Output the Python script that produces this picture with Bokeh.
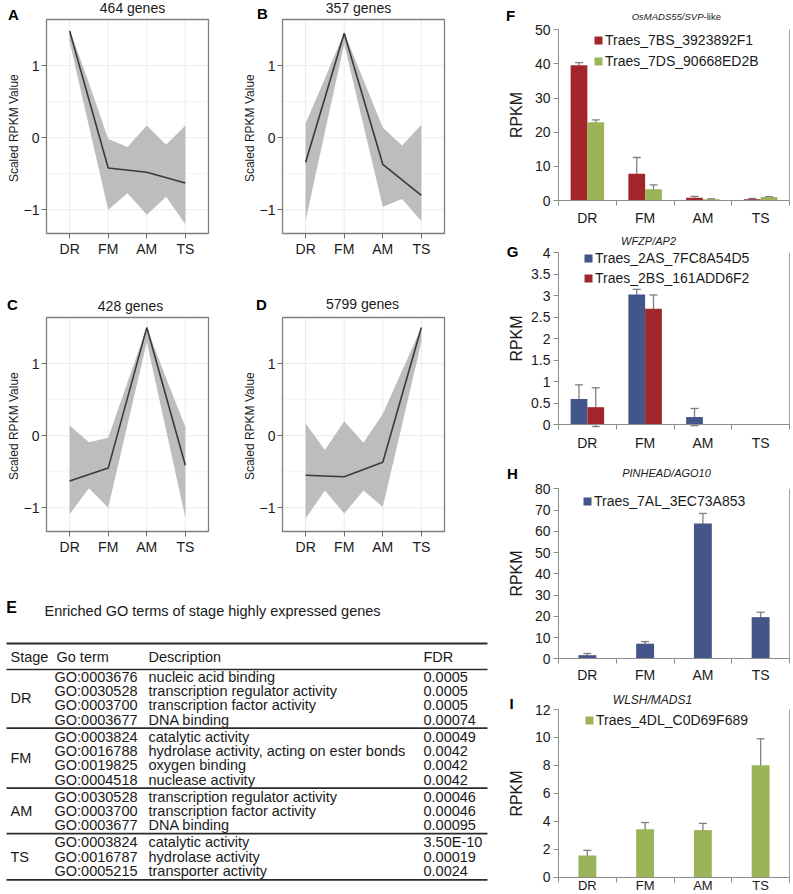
import numpy as np
from bokeh.plotting import figure
from bokeh.models import (Range1d, FixedTicker, Label, Legend, LegendItem, Whisker,
                          TeeHead, ColumnDataSource, LinearAxis, NumeralTickFormatter)
from bokeh.core.properties import value
from bokeh.embed import file_html
from bokeh.resources import INLINE

FONT = "Liberation Sans"
TXT = "#1a1a1a"

stages = ["DR", "FM", "AM", "TS"]

# ---------------- A-D: cluster profiles (scaled RPKM) ----------------
# mean profile at the four stages; grey bundle envelope read at stages and midway between them
cluster_titles = ["464 genes", "357 genes", "428 genes", "5799 genes"]
mean_A = [1.48, -0.42, -0.48, -0.63]
upper_A = [1.50, 0.76, -0.02, -0.13, 0.17, -0.10, 0.17]
lower_A = [1.33, 0.16, -1.00, -0.77, -1.07, -0.82, -1.20]
mean_B = [-0.34, 1.45, -0.37, -0.80]
upper_B = [0.20, 0.82, 1.46, 0.80, 0.14, -0.11, 0.18]
lower_B = [-1.15, 0.08, 1.30, 0.17, -0.96, -0.85, -1.16]
mean_C = [-0.63, -0.45, 1.50, -0.41]
upper_C = [0.14, -0.09, -0.03, 0.74, 1.50, 0.80, 0.12]
lower_C = [-1.09, -0.73, -1.00, 0.15, 1.30, 0.08, -1.14]
mean_D = [-0.55, -0.57, -0.37, 1.50]
upper_D = [0.17, -0.20, 0.20, -0.10, 0.30, 0.90, 1.50]
lower_D = [-1.15, -0.76, -1.08, -0.76, -0.99, 0.15, 1.30]

# ---------------- E: GO table ----------------
table_title = "Enriched GO terms of stage highly expressed genes"
table_header = ["Stage", "Go term", "Description", "FDR"]
go_stage = ["DR", "DR", "DR", "DR", "FM", "FM", "FM", "FM", "AM", "AM", "AM", "TS", "TS", "TS"]
go_id = ["GO:0003676", "GO:0030528", "GO:0003700", "GO:0003677",
         "GO:0003824", "GO:0016788", "GO:0019825", "GO:0004518",
         "GO:0030528", "GO:0003700", "GO:0003677",
         "GO:0003824", "GO:0016787", "GO:0005215"]
go_desc = ["nucleic acid binding", "transcription regulator activity",
           "transcription factor activity", "DNA binding",
           "catalytic activity", "hydrolase activity, acting on ester bonds",
           "oxygen binding", "nuclease activity",
           "transcription regulator activity", "transcription factor activity", "DNA binding",
           "catalytic activity", "hydrolase activity", "transporter activity"]
go_fdr = ["0.0005", "0.0005", "0.0005", "0.00074",
          "0.00049", "0.0042", "0.0042", "0.0042",
          "0.00046", "0.00046", "0.00095",
          "3.50E-10", "0.00019", "0.0024"]

# ---------------- F-I: RPKM bar charts ----------------
F_names = ["Traes_7BS_3923892F1", "Traes_7DS_90668ED2B"]
F_vals_1 = [39.6, 7.8, 0.8, 0.4]
F_err_1 = [0.8, 4.8, 0.4, 0.2]
F_vals_2 = [22.9, 3.3, 0.4, 1.0]
F_err_2 = [0.7, 1.3, 0.1, 0.15]

G_names = ["Traes_2AS_7FC8A54D5", "Traes_2BS_161ADD6F2"]
G_vals_1 = [0.60, 3.03, 0.18, 0.0]
G_err_1 = [0.33, 0.12, 0.20, 0.0]
G_vals_2 = [0.41, 2.70, 0.0, 0.0]
G_err_2 = [0.45, 0.32, 0.0, 0.0]

H_names = ["Traes_7AL_3EC73A853"]
H_vals = [1.7, 7.1, 63.7, 19.6]
H_err = [0.8, 1.0, 4.7, 2.3]

I_names = ["Traes_4DL_C0D69F689"]
I_vals = [1.54, 3.42, 3.36, 8.0]
I_err = [0.37, 0.48, 0.48, 1.9]

RED = "#A1262A"
GREEN = "#9BB45A"
BLUE = "#435589"
ERR = "#808080"
AXC = "#8C8C8C"

# ======================================================================
W, H = 793, 894
p = figure(width=W, height=H, x_range=Range1d(0, W), y_range=Range1d(H, 0),
           output_backend="svg", toolbar_location=None,
           x_axis_location=None, y_axis_location=None,
           min_border_left=0, min_border_right=0, min_border_top=0, min_border_bottom=0)
p.outline_line_color = None
p.grid.visible = False
p.background_fill_color = "white"
p.border_fill_color = "white"


def add_ranges(name, xd, xp, yd, yp):
    """xd data (lo, hi) shown at pixel columns xp; yd data (lo, hi) shown at pixel rows yp=(bottom, top)."""
    sx = (xd[1] - xd[0]) / (xp[1] - xp[0])
    x_start = xd[0] - xp[0] * sx
    sy = (yd[1] - yd[0]) / (yp[0] - yp[1])
    y_start = yd[0] - (H - yp[0]) * sy
    p.extra_x_ranges[name] = Range1d(x_start, x_start + W * sx)
    p.extra_y_ranges[name] = Range1d(y_start, y_start + H * sy)


def add_label(x, y, text, size, style="normal", align="center", color=TXT):
    p.add_layout(Label(x=x, y=y, text=text, text_font=FONT, text_font_size=size,
                       text_font_style=style, text_align=align, text_baseline="middle",
                       text_color=color))


def cluster_panel(key, frame, letter, letter_xy, title, title_xy, mean, upper, lower):
    L, T, R, B = frame
    X0, X1, Y0, Y1 = 0.4, 4.6, -1.33, 1.64
    add_ranges(key, (X0, X1), (L, R), (Y0, Y1), (B, T))
    kw = dict(x_range_name=key, y_range_name=key)
    n = len(stages)
    xt = list(range(1, n + 1))
    yt = [-1, 0, 1]
    ym = [-0.5, 0.5]
    p.segment(x0=[X0] * 2, x1=[X1] * 2, y0=ym, y1=ym, line_color="#F4F4F4", line_width=1, **kw)
    p.segment(x0=xt, x1=xt, y0=[Y0] * n, y1=[Y1] * n, line_color="#EBEBEB", line_width=1, **kw)
    p.segment(x0=[X0] * 3, x1=[X1] * 3, y0=yt, y1=yt, line_color="#EBEBEB", line_width=1, **kw)
    xs_env = [float(v) for v in np.linspace(1, n, 2 * n - 1)]
    p.varea(x=xs_env, y1=lower, y2=upper, fill_color="#BDBDBD", **kw)
    p.line(x=xt, y=mean, line_color="#3a3a3a", line_width=1.6, **kw)
    p.quad(left=[X0], right=[X1], bottom=[Y0], top=[Y1], fill_color=None,
           line_color="#7F7F7F", line_width=1.3, **kw)

    xa = LinearAxis(x_range_name=key, y_range_name=key, fixed_location=Y0, bounds=(X0, X1),
                    ticker=FixedTicker(ticks=xt),
                    major_label_overrides={t: s for t, s in zip(xt, stages)})
    ya = LinearAxis(x_range_name=key, y_range_name=key, fixed_location=X0, bounds=(Y0, Y1),
                    ticker=FixedTicker(ticks=yt), axis_label="Scaled RPKM  Value")
    for ax in (xa, ya):
        ax.axis_line_color = None
        ax.major_tick_in = 0
        ax.major_tick_out = 5
        ax.major_tick_line_color = "#6E6E6E"
        ax.minor_tick_line_color = None
        ax.major_label_standoff = 2
        ax.major_label_text_font = FONT
        ax.major_label_text_font_size = "14px"
        ax.major_label_text_color = TXT
    ya.axis_label_text_font = FONT
    ya.axis_label_text_font_size = "12px"
    ya.axis_label_text_font_style = "normal"
    ya.axis_label_text_color = TXT
    ya.axis_label_standoff = 0
    p.add_layout(xa, "below")
    p.add_layout(ya, "left")
    add_label(*letter_xy, letter, "15px", "bold", color="black")
    add_label(*title_xy, title, "14px")


def bar_panel(key, frame, ymax, ystep, names, vals_list, err_list, colors, bar_w,
              legend_x, legend_bottom, leg_lh, ylab_standoff, xlab_standoff, xlab_size="14px"):
    L, T, R, B = frame
    ncat = len(stages)
    add_ranges(key, (0, ncat), (L, R), (0, ymax), (B, T))
    kw = dict(x_range_name=key, y_range_name=key)
    n = len(vals_list)
    items = []
    for k, (vals, errs, col, name) in enumerate(zip(vals_list, err_list, colors, names)):
        off = (k - (n - 1) / 2) * bar_w
        xs = [i + 0.5 + off for i in range(ncat)]
        r = p.vbar(x=xs, top=vals, width=bar_w, fill_color=col, line_color=None, **kw)
        items.append(LegendItem(label=name, renderers=[r]))
        keep = [i for i, e in enumerate(errs) if e > 0]
        src = ColumnDataSource(dict(base=[xs[i] for i in keep],
                                    upper=[vals[i] + errs[i] for i in keep],
                                    lower=[vals[i] - errs[i] for i in keep]))
        p.add_layout(Whisker(source=src, base="base", upper="upper", lower="lower",
                             line_color=ERR, line_width=1.3,
                             upper_head=TeeHead(size=8, line_color=ERR, line_width=1.3),
                             lower_head=TeeHead(size=8, line_color=ERR, line_width=1.3), **kw))
    # right edge of plot area
    p.segment(x0=[ncat], x1=[ncat], y0=[0], y1=[ymax], line_color="#A6A6A6", line_width=1, **kw)

    leg = Legend(items=items, location=(legend_x, H - legend_bottom),
                 glyph_width=10, glyph_height=10, label_height=leg_lh, label_standoff=2,
                 spacing=0, padding=0, margin=0, border_line_color=None,
                 background_fill_alpha=0, label_text_font=FONT, label_text_font_size="14px",
                 label_text_color=TXT)
    p.add_layout(leg)

    nt = int(round(ymax / ystep))
    ya = LinearAxis(x_range_name=key, y_range_name=key, fixed_location=0, bounds=(0, ymax),
                    ticker=FixedTicker(ticks=[round(i * ystep, 4) for i in range(nt + 1)]),
                    formatter=NumeralTickFormatter(format="0.[0]"), axis_label="RPKM")
    cats = [i + 0.5 for i in range(ncat)]
    xa = LinearAxis(x_range_name=key, y_range_name=key, fixed_location=0, bounds=(0, ncat),
                    ticker=FixedTicker(ticks=cats, minor_ticks=list(range(ncat + 1))),
                    major_label_overrides={c: s for c, s in zip(cats, stages)})
    xa.major_tick_in = 0
    xa.major_tick_out = 0
    xa.minor_tick_in = 0
    xa.minor_tick_out = 5
    xa.minor_tick_line_color = AXC
    xa.major_label_standoff = xlab_standoff
    ya.major_tick_in = 0
    ya.major_tick_out = 5
    ya.minor_tick_line_color = None
    ya.major_label_standoff = 3
    for ax in (xa, ya):
        ax.axis_line_color = AXC
        ax.major_tick_line_color = AXC
        ax.major_label_text_font = FONT
        ax.major_label_text_color = TXT
    ya.major_label_text_font_size = "14px"
    xa.major_label_text_font_size = xlab_size
    ya.axis_label_text_font = FONT
    ya.axis_label_text_font_size = "16px"
    ya.axis_label_text_font_style = "normal"
    ya.axis_label_text_color = TXT
    ya.axis_label_standoff = ylab_standoff
    p.add_layout(xa, "below")
    p.add_layout(ya, "left")


# ---------------- A-D ----------------
cluster_panel("A", (46, 19, 208, 233), "A", (13, 14), cluster_titles[0], (132, 7), mean_A, upper_A, lower_A)
cluster_panel("B", (282, 19, 444, 233), "B", (262, 13), cluster_titles[1], (358, 7), mean_B, upper_B, lower_B)
cluster_panel("C", (46, 317, 208, 531), "C", (12, 304), cluster_titles[2], (130, 305), mean_C, upper_C, lower_C)
cluster_panel("D", (282, 317, 444, 531), "D", (261, 304), cluster_titles[3], (362, 303), mean_D, upper_D, lower_D)

# ---------------- E: table ----------------
add_label(11, 607, "E", "16px", "bold", color="black")
add_label(44, 610, table_title, "14.5px", align="left")

col_x = [10, 56, 148, 423]
id_x = 54
header_y, top_line_y, head_line_y = 656, 643, 669
row_h, gap, first_y = 14.4, 16.8, 676

row_y, sep_y = [], []
for j in range(len(go_stage)):
    if j == 0:
        y = first_y
    elif go_stage[j] != go_stage[j - 1]:
        sep_y.append(row_y[-1] + gap / 2)
        y = row_y[-1] + gap
    else:
        y = row_y[-1] + row_h
    row_y.append(y)
bottom_y = row_y[-1] + 9

stage_names, stage_y = [], []
for s in dict.fromkeys(go_stage):
    ys = [row_y[j] for j in range(len(go_stage)) if go_stage[j] == s]
    stage_names.append(s)
    stage_y.append(sum(ys) / len(ys))

texts = table_header + stage_names + go_id + go_desc + go_fdr
xs_t = (col_x + [col_x[0]] * len(stage_names) + [id_x] * len(go_id)
        + [col_x[2]] * len(go_desc) + [col_x[3]] * len(go_fdr))
ys_t = [header_y] * len(table_header) + stage_y + row_y + row_y + row_y
p.text(x=xs_t, y=ys_t, text=texts, text_font=value(FONT), text_font_size="14.5px",
       text_align="left", text_baseline="middle", text_color=TXT)

line_y = [top_line_y, head_line_y] + sep_y + [bottom_y]
line_w = [2.0, 1.7] + [1.7] * len(sep_y) + [1.7]
p.segment(x0=[6] * len(line_y), x1=[487] * len(line_y), y0=line_y, y1=line_y,
          line_color="#2b2b2b", line_width=line_w)

# ---------------- F-I ----------------
bar_panel("F", (558, 29.3, 789, 200), 50, 10, F_names, [F_vals_1, F_vals_2], [F_err_1, F_err_2],
          [RED, GREEN], 0.29, 593, 71.5, 21, 7, 4)
bar_panel("G", (558, 252.3, 789, 424.3), 4, 0.5, G_names, [G_vals_1, G_vals_2], [G_err_1, G_err_2],
          [BLUE, RED], 0.29, 583, 288, 20, 3, 5)
bar_panel("H", (558, 488.3, 789, 658.3), 80, 10, H_names, [H_vals], [H_err],
          [BLUE], 0.31, 582, 511, 20, 7, 3)
bar_panel("I", (558, 709, 789, 876.5), 12, 2, I_names, [I_vals], [I_err],
          [GREEN], 0.31, 584, 730, 20, 7, -4, "13px")

add_label(510, 15, "F", "15px", "bold", color="black")
add_label(703, 16, "OsMADS55/SVP", "9.5px", "italic", align="right")
add_label(703, 16, "-like", "9.5px", align="left")
add_label(512, 251, "G", "15px", "bold", color="black")
add_label(648, 240, "WFZP/AP2", "11px", "italic")
add_label(512, 473, "H", "15px", "bold", color="black")
add_label(666, 472, "PINHEAD/AGO10", "11px", "italic")
add_label(511, 703, "I", "15px", "bold", color="black")
add_label(652, 699, "WLSH/MADS1", "12px", "italic")

open("out.html", "w").write(file_html(p, INLINE))
